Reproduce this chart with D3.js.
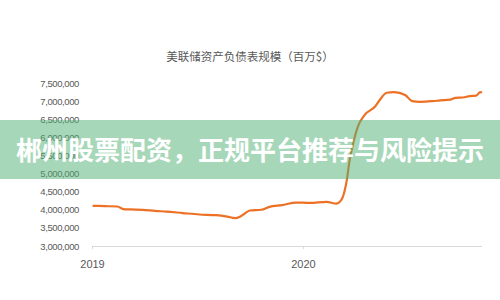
<!DOCTYPE html>
<html>
<head>
<meta charset="utf-8">
<script src="https://cdn.jsdelivr.net/npm/d3@7"></script>
<style>
  body { margin: 0; background: #fff; }
  #chart { width: 500px; height: 300px; }
</style>
</head>
<body>
<div id="chart"></div>
<script>
//Datos (balance de la Fed, millones $)
const fechas = ['2019-01-02','2019-01-23','2019-02-14','2019-02-24','2019-03-08','2019-03-30','2019-04-20','2019-05-10',
  '2019-06-07','2019-07-06','2019-08-04','2019-08-23','2019-09-06','2019-09-13','2019-09-22','2019-10-01',
  '2019-10-21','2019-11-04','2019-11-26','2019-12-20','2020-01-13','2020-02-11','2020-02-28','2020-03-06',
  '2020-03-10','2020-03-17','2020-03-22','2020-03-29','2020-04-05','2020-04-17','2020-05-05','2020-05-13',
  '2020-05-25','2020-06-07','2020-06-26','2020-07-08','2020-07-22','2020-08-13','2020-08-26','2020-09-12',
  '2020-09-21','2020-10-04','2020-10-16','2020-10-27','2020-11-03','2020-11-06'];
const valores = [4110000,4100000,4090000,4020000,4010000,4000000,3970000,3950000,
  3910000,3870000,3850000,3810000,3770000,3800000,3890000,3980000,
  4000000,4080000,4130000,4200000,4190000,4220000,4170000,4240000,
  4350000,4820000,5380000,5900000,6290000,6620000,6850000,7030000,
  7230000,7250000,7170000,7000000,6980000,7000000,7020000,7040000,
  7090000,7100000,7140000,7150000,7250000,7230000];
const ticksY = [3000000,3500000,4000000,4500000,5000000,5500000,6000000,6500000,7000000,7500000];
const ticksX = ['2019-01-01','2020-01-01'];
const titulo = '美联储资产负债表规模（百万$）';
const banner = '郴州股票配资，正规平台推荐与风险提示';

const COLOR_LINEA = '#ec7125',
  COLOR_TEXTO = '#595959',
  COLOR_EJE = '#d9d9d9';

let parse = d3.timeParse('%Y-%m-%d');
let data = fechas.map(function(f, i) { return { fecha: parse(f), valor: valores[i] }; });

let width = 500, height = 300;

let svg = d3.select('#chart')
  .append('svg')
  .attr('width', width)
  .attr('height', height);

//Eje X
let x = d3.scaleTime()
  .domain([parse('2019-01-01'), parse('2020-11-06')])
  .range([92, 482]);

//Eje Y
let y = d3.scaleLinear()
  .domain([3000000, 7500000])
  .range([246, 83]);

//Título
svg.append('text')
  .attr('x', 250)
  .attr('y', 61)
  .attr('text-anchor', 'middle')
  .style('font-family', '"Noto Sans CJK SC", sans-serif')
  .style('font-size', '11.5px')
  .style('fill', COLOR_TEXTO)
  .text(titulo);

//Etiquetas eje Y
let yAxis = d3.axisLeft(y)
  .tickValues(ticksY)
  .tickFormat(d3.format(','))
  .tickSize(0)
  .tickPadding(0);

svg.append('g')
  .attr('transform', 'translate(79,0)')
  .call(yAxis)
  .call(function(g) { g.select('.domain').remove(); })
  .selectAll('text')
  .style('font-family', '"Liberation Sans", sans-serif')
  .style('font-size', '9.5px')
  .style('letter-spacing', '-0.4px')
  .style('fill', COLOR_TEXTO);

//Eje X
let xAxis = d3.axisBottom(x)
  .tickValues(ticksX.map(parse))
  .tickFormat(d3.timeFormat('%Y'))
  .tickSize(3)
  .tickPadding(11);

svg.append('g')
  .attr('transform', 'translate(0,' + y(3000000) + ')')
  .call(xAxis)
  .call(function(g) {
    g.select('.domain').attr('stroke', COLOR_EJE).attr('d', 'M92,0.5H482');
    g.selectAll('.tick line').attr('stroke', COLOR_EJE);
  })
  .selectAll('text')
  .style('font-family', '"Liberation Sans", sans-serif')
  .style('font-size', '11px')
  .style('fill', COLOR_TEXTO);

//Línea
let line = d3.line()
  .x(function(d) { return x(d.fecha); })
  .y(function(d) { return y(d.valor); })
  .curve(d3.curveMonotoneX);

svg.append('path')
  .datum(data)
  .attr('fill', 'none')
  .attr('stroke', COLOR_LINEA)
  .attr('stroke-width', 2.2)
  .attr('stroke-linejoin', 'round')
  .attr('d', line);

//Banda superpuesta
svg.append('rect')
  .attr('x', 0)
  .attr('y', 120)
  .attr('width', width)
  .attr('height', 59)
  .attr('fill', 'rgb(80,175,115)')
  .attr('fill-opacity', 0.5);

svg.append('text')
  .attr('x', 250)
  .attr('y', 160)
  .attr('text-anchor', 'middle')
  .style('font-family', '"Noto Sans CJK SC", sans-serif')
  .style('font-weight', 'bold')
  .style('font-size', '26px')
  .style('fill', '#fff')
  .text(banner);
</script>
</body>
</html>
